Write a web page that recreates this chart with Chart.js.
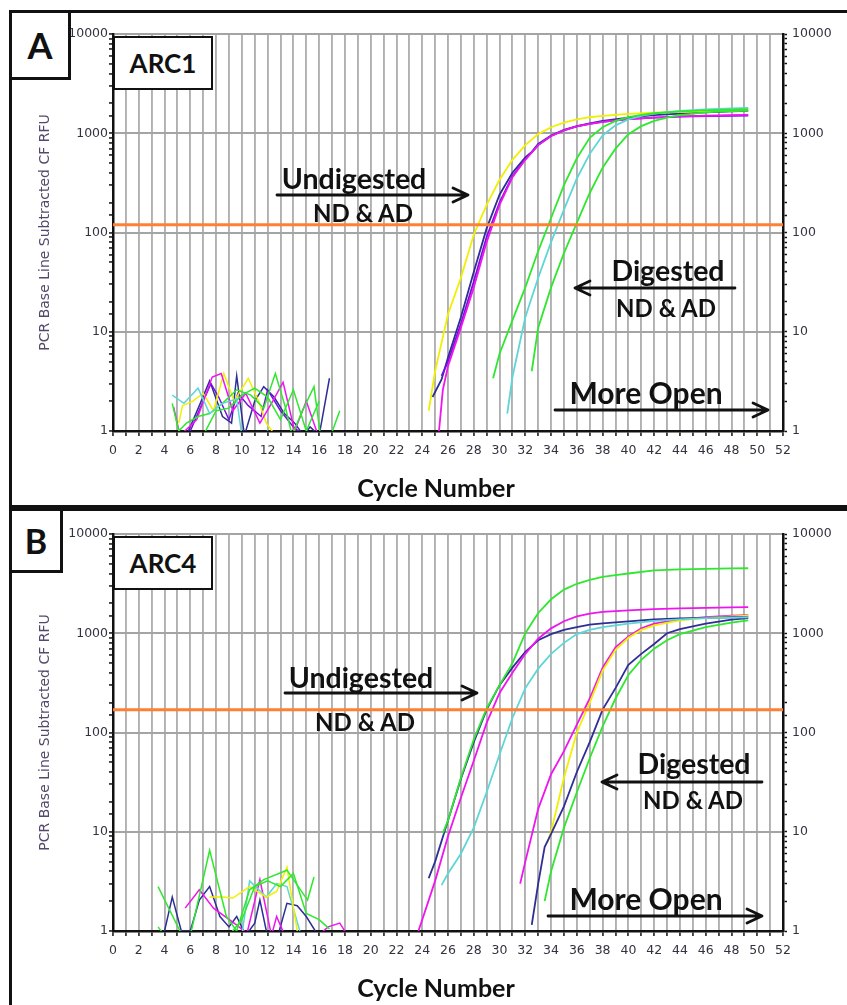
<!DOCTYPE html>
<html>
<head>
<meta charset="utf-8">
<script src="https://cdn.jsdelivr.net/npm/chart.js@4.4.0/dist/chart.umd.min.js"></script>
<style>
  body { margin: 0; background: #fff; width: 847px; height: 1005px; overflow: hidden; position: relative; font-family: Lato, "Open Sans", sans-serif; }
  .panel { position: absolute; left: 0; width: 847px; height: 505px; }
  .panel canvas { position: absolute; left: 0; top: 0; }
  .frame { position: absolute; border: 3px solid #111; box-sizing: border-box; }
  .letter { position: absolute; border: 3px solid #111; background: #fff; box-sizing: border-box; display: flex; align-items: center; justify-content: center; font-weight: 700; color: #111; }
  .tag { position: absolute; border: 2.5px solid #111; background: #fff; box-sizing: border-box; display: flex; align-items: center; justify-content: center; font-weight: 700; font-size: 26px; color: #111; }
  .lbl { position: absolute; font-weight: 700; color: #111; line-height: 1; white-space: nowrap; transform: translate(-50%, -50%); }
</style>
</head>
<body>

<div class="frame" style="left:9px; top:10px; width:860px; height:498px;"></div>
<div class="frame" style="left:9px; top:508px; width:860px; height:520px;"></div>

<div class="panel" style="top:0px;"><canvas id="chartA" width="847" height="505"></canvas></div>
<div class="panel" style="top:500px;"><canvas id="chartB" width="847" height="505"></canvas></div>

<div class="letter" style="left:9px; top:10px; width:62px; height:70px; font-size:36px;">A</div>
<div class="letter" style="left:9px; top:508px; width:54px; height:65px; font-size:34px;">B</div>

<div class="tag" style="left:113px; top:36px; width:100px; height:54px;">ARC1</div>
<div class="tag" style="left:113px; top:536px; width:100px; height:54px;">ARC4</div>

<!-- panel A labels -->
<div class="lbl" style="left:354px; top:178px; font-size:28.5px;">Undigested</div>
<div class="lbl" style="left:363px; top:213px; font-size:24px;">ND &amp; AD</div>
<div class="lbl" style="left:668px; top:270px; font-size:28.5px;">Digested</div>
<div class="lbl" style="left:666px; top:308px; font-size:24px;">ND &amp; AD</div>
<div class="lbl" style="left:646px; top:392px; font-size:30px;">More Open</div>
<div class="lbl" style="left:436px; top:487px; font-size:25px;">Cycle Number</div>

<!-- panel B labels -->
<div class="lbl" style="left:361px; top:677px; font-size:28.5px;">Undigested</div>
<div class="lbl" style="left:365px; top:722px; font-size:24px;">ND &amp; AD</div>
<div class="lbl" style="left:694px; top:763px; font-size:28.5px;">Digested</div>
<div class="lbl" style="left:693px; top:800px; font-size:24px;">ND &amp; AD</div>
<div class="lbl" style="left:646px; top:898px; font-size:30px;">More Open</div>
<div class="lbl" style="left:436px; top:987px; font-size:25px;">Cycle Number</div>

<script>
// ---- colours of the wells ----
const YELLOW = '#f0f000';
const GREEN = '#2ee82e';
const CYAN = '#5fd6d6';
const MAGENTA = '#f014f0';
const NAVY = '#2e2e96';
const PURPLE = '#7412dc';
const ORANGE = '#ff8033';
const GRID = '#b0b0b0';

// ---- panel A (ARC1) ----
const thresholdA = 120;

const aYellowX = [24.5, 25, 26, 27, 28, 29, 30, 31, 32, 33, 34, 35, 36, 37, 38, 40, 42, 44, 46, 48, 49.3];
const aYellowY = [1.6, 4, 15, 35, 95, 190, 340, 540, 760, 980, 1150, 1280, 1380, 1450, 1500, 1570, 1610, 1640, 1660, 1680, 1700];

const aNavyX = [24.8, 25.5, 26, 27, 28, 29, 30, 31, 32, 32.5, 33, 34, 35, 36, 37, 38, 40, 42, 44, 46, 48, 49.3];
const aNavyY = [2.2, 3.3, 5.5, 14, 40, 110, 240, 400, 570, 650, 780, 950, 1080, 1180, 1260, 1330, 1440, 1520, 1580, 1620, 1660, 1680];

const aPurpleX = [25.5, 26, 27, 28, 29, 30, 31, 32, 32.5, 33, 34, 35, 36, 37, 38, 40, 42, 44, 46, 48, 49.3];
const aPurpleY = [3.6, 5, 12, 32, 90, 200, 370, 550, 640, 760, 940, 1070, 1170, 1240, 1300, 1390, 1440, 1470, 1490, 1500, 1510];

const aMagentaX = [25.3, 25.6, 26, 27, 28, 29, 30, 31, 32, 32.5, 33, 34, 35, 36, 37, 38, 40, 42, 44, 46, 48, 49.3];
const aMagentaY = [1, 2.6, 4.5, 11, 28, 80, 190, 360, 540, 640, 760, 940, 1070, 1170, 1240, 1300, 1390, 1440, 1480, 1500, 1520, 1530];

const aGreen1X = [29.5, 30, 31, 32, 33, 34, 35, 36, 37, 38, 39, 40, 41, 42, 44, 46, 48, 49.3];
const aGreen1Y = [3.4, 6, 13, 28, 65, 140, 300, 560, 900, 1150, 1330, 1450, 1530, 1590, 1660, 1700, 1730, 1750];

const aCyanX = [30.6, 31, 32, 33, 34, 35, 36, 37, 38, 39, 40, 41, 42, 44, 46, 48, 49.3];
const aCyanY = [1.5, 3.5, 14, 35, 80, 170, 350, 620, 950, 1200, 1380, 1500, 1580, 1680, 1740, 1780, 1800];

const aGreen2X = [32.5, 33, 34, 35, 36, 37, 38, 39, 40, 41, 42, 43, 44, 46, 48, 49.3];
const aGreen2Y = [4, 11, 28, 62, 125, 250, 450, 700, 980, 1180, 1330, 1440, 1520, 1620, 1680, 1700];

// baseline noise, panel A
const aNoiseCyanX = [4.6, 5.5, 6.6, 7.5, 8.5, 9.6, 10, 11, 12, 12.5];
const aNoiseCyanY = [2.3, 1.9, 2.7, 1.5, 1.9, 2.1, 0.9, 0.8, 1.0, 0.8];
const aNoiseGreenX = [4.6, 5.1, 5.7, 6.6, 7.5, 8.5, 9.6, 10.7, 11.7, 12.6, 13.4, 13.9, 14.6, 15.6, 16.1, 16.9, 17.6];
const aNoiseGreenY = [1.9, 1.0, 1.2, 1.4, 1.5, 1.9, 2.6, 2.3, 1.7, 3.8, 1.7, 0.9, 1.5, 2.8, 0.9, 0.9, 1.6];
const aNoiseGreen2X = [7, 8, 9, 10, 11, 12, 13, 14, 15, 16];
const aNoiseGreen2Y = [0.9, 1.6, 1.7, 2.3, 2.7, 2.2, 1.3, 2.6, 1.0, 2.0];
const aNoiseMagentaX = [4.7, 5.2, 6.5, 7.7, 8.4, 9.3, 10.3, 11.4, 12.4, 13.2, 14.1, 15.0, 15.8];
const aNoiseMagentaY = [1.75, 0.9, 1.3, 3.5, 3.8, 1.6, 2.4, 1.2, 2.0, 3.1, 1.0, 2.0, 1.0];
const aNoiseYellowX = [5.1, 5.4, 6.2, 7.0, 7.8, 8.6, 9.4, 10.5, 11.3, 11.9, 12.6];
const aNoiseYellowY = [1.2, 1.8, 2.0, 2.4, 1.6, 3.8, 2.0, 3.4, 2.0, 1.2, 0.9];
const aNoiseNavyX = [5.7, 6.7, 7.5, 8.5, 9.2, 9.6, 10.2, 11.0, 11.7, 12.5, 13.3, 14.1, 14.8, 15.3, 16.0, 16.8];
const aNoiseNavyY = [0.9, 1.8, 3.2, 1.4, 1.2, 3.6, 0.9, 2.0, 2.8, 2.2, 1.5, 1.2, 0.9, 1.1, 0.9, 3.4];
const aNoisePurpleX = [6, 7, 7.6, 8.2, 9, 9.7, 10.5, 11.5, 12, 13, 14, 14.8];
const aNoisePurpleY = [1.0, 2.0, 3.0, 2.2, 1.3, 2.4, 1.8, 1.4, 2.6, 1.6, 1.1, 0.9];

// ---- panel B (ARC4) ----
const thresholdB = 170;

const bNavyX = [24.5, 25, 26, 27, 28, 29, 30, 31, 32, 33, 34, 35, 36, 37, 38, 40, 42, 44, 46, 48, 49.3];
const bNavyY = [3.4, 5, 13, 34, 80, 170, 300, 450, 650, 850, 980, 1080, 1150, 1220, 1260, 1320, 1380, 1410, 1430, 1450, 1460];

const bGreenX = [25.6, 26, 27, 28, 29, 30, 31, 32, 33, 34, 35, 36, 37, 38, 39, 40, 42, 44, 46, 48, 49.3];
const bGreenY = [9.7, 13, 35, 85, 175, 300, 500, 1000, 1600, 2200, 2750, 3150, 3450, 3700, 3850, 4000, 4300, 4400, 4450, 4500, 4520];

const bMagentaX = [23.7, 24, 25, 26, 27, 28, 29, 30, 31, 32, 33, 34, 35, 36, 37, 38, 40, 42, 44, 46, 48, 49.3];
const bMagentaY = [1, 1.3, 3.2, 9, 22, 52, 125, 250, 400, 620, 880, 1120, 1320, 1480, 1580, 1640, 1700, 1750, 1780, 1800, 1820, 1830];

const bCyanX = [25.5, 26, 27, 28, 29, 30, 31, 32, 33, 34, 35, 36, 37, 38, 40, 42, 44, 46, 48, 49.3];
const bCyanY = [2.9, 3.8, 6, 11, 25, 60, 140, 280, 440, 620, 800, 980, 1080, 1150, 1250, 1330, 1380, 1420, 1440, 1450];

const bMagenta2X = [31.6, 32, 33, 34, 35, 36, 37, 38, 39, 40, 41, 42, 44, 46, 48, 49.3];
const bMagenta2Y = [3, 5, 17, 38, 65, 120, 220, 450, 720, 930, 1120, 1250, 1380, 1450, 1500, 1520];

const bYellowX = [33.7, 34, 35, 36, 37, 38, 39, 40, 41, 42, 44, 46, 48, 49.3];
const bYellowY = [7.7, 10, 35, 100, 200, 420, 680, 900, 1080, 1200, 1350, 1430, 1480, 1500];

const bNavy2X = [32.5, 33, 33.5, 34, 35, 36, 37, 38, 39, 40, 41, 42, 43, 44, 46, 48, 49.3];
const bNavy2Y = [1.15, 3, 7, 9.5, 18, 40, 80, 170, 280, 480, 620, 780, 1000, 1100, 1250, 1370, 1420];

const bGreen2X = [33.5, 34, 35, 36, 37, 38, 39, 40, 41, 42, 43, 44, 46, 48, 49.3];
const bGreen2Y = [2, 4, 11, 25, 55, 115, 220, 380, 540, 700, 850, 980, 1150, 1280, 1350];

// baseline noise, panel B
const bNoiseGreenX = [3.5, 5.2, 6.0, 7.5, 8.8, 9.6, 10.6, 11.7, 13.5, 15.1, 15.6];
const bNoiseGreenY = [2.8, 1.0, 0.9, 6.5, 1.4, 1.0, 2.6, 3.3, 4.1, 2.05, 3.5];
const bNoiseGreen2X = [3.5, 4.0, 9.0, 10.0, 11.0, 12.0, 13.0, 14.0, 15.0, 16.0, 16.8];
const bNoiseGreen2Y = [1.1, 0.9, 0.9, 1.3, 2.8, 3.2, 2.8, 3.8, 1.5, 1.3, 1.05];
const bNoiseNavyX = [4.0, 4.6, 5.3, 6.0, 6.7, 7.5, 8.3, 9.0, 9.6, 10.3, 11.0, 11.4, 11.9, 12.8, 13.5, 14.3, 15.0, 15.7];
const bNoiseNavyY = [1.0, 2.2, 1.0, 1.0, 2.05, 2.8, 1.4, 1.1, 1.4, 0.9, 1.2, 2.05, 1.0, 0.9, 1.9, 1.8, 1.4, 1.0];
const bNoiseMagentaX = [5.6, 6.7, 7.8, 9.4, 10.4, 11.4, 12.3, 12.7, 13.5, 15.0, 16.7, 17.6, 18.1];
const bNoiseMagentaY = [1.7, 2.6, 1.7, 1.2, 0.95, 3.3, 0.9, 1.4, 0.8, 0.7, 1.1, 1.2, 0.95];
const bNoiseYellowX = [7.5, 8.5, 9.3, 10.6, 11.9, 12.7, 13.5, 14.3, 14.6];
const bNoiseYellowY = [2.2, 2.2, 2.15, 2.8, 2.2, 2.5, 4.4, 1.0, 0.9];
const bNoiseCyanX = [10.0, 10.6, 11.9, 12.7, 13.5, 14.5];
const bNoiseCyanY = [0.9, 3.2, 2.2, 3.0, 2.8, 1.0];

// ---- helpers ----
function series(xs, ys, color, width) {
    return {
        data: xs.map((x, i) => ({ x: x, y: ys[i] })),
        borderColor: color,
        borderWidth: width || 1.8,
        pointRadius: 0,
        fill: false,
        tension: 0
    };
}

function thresholdLine(value) {
    return series([0, 52], [value, value], ORANGE, 3);
}

const isDecade = v => Math.abs(Math.log10(v) - Math.round(Math.log10(v))) < 1e-6;

const tickFont = { family: 'DejaVu Sans', size: 12.5 };

// arrows drawn on top of the plot (pixel positions inside each canvas)
const arrowPlugin = {
    id: 'arrows',
    afterDraw(chart, args, opts) {
        const ctx = chart.ctx;
        ctx.save();
        ctx.strokeStyle = '#111';
        ctx.lineWidth = 2.8;
        ctx.lineCap = 'round';
        ctx.lineJoin = 'round';
        (opts.list || []).forEach(a => {
            const dir = Math.sign(a.x2 - a.x1);
            ctx.beginPath();
            ctx.moveTo(a.x1, a.y);
            ctx.lineTo(a.x2, a.y);
            ctx.moveTo(a.x2 - dir * 15, a.y - 7);
            ctx.lineTo(a.x2, a.y);
            ctx.lineTo(a.x2 - dir * 15, a.y + 7);
            ctx.stroke();
        });
        ctx.restore();
    }
};

function makeChart(id, datasets, arrows) {
    return new Chart(document.getElementById(id), {
        type: 'line',
        data: { datasets: datasets },
        options: {
            responsive: false,
            animation: false,
            layout: { padding: { left: 37, top: 34, right: 0, bottom: 0 } },
            plugins: { legend: { display: false }, tooltip: { enabled: false }, arrows: { list: arrows } },
            scales: {
                x: {
                    type: 'linear', min: 0, max: 52,
                    ticks: { stepSize: 1, autoSkip: false, maxRotation: 0, padding: 7, color: '#333340', font: tickFont,
                             callback: v => (v % 2 === 0 ? String(v) : '') },
                    grid: { color: GRID, lineWidth: 1.9, tickLength: 5, tickColor: '#111', tickWidth: 1.5 },
                    border: { color: '#111', width: 2.5 },
                    afterFit: s => { s.height = 74; }
                },
                y: {
                    type: 'logarithmic', position: 'left', min: 1, max: 10000,
                    ticks: { autoSkip: false, padding: 1, color: '#333340', font: tickFont,
                             callback: v => (isDecade(v) ? String(v) : '') },
                    grid: { color: c => (c.tick && isDecade(c.tick.value) ? '#a4a4a4' : 'rgba(0,0,0,0)'),
                            lineWidth: 1.9, tickLength: 4, tickColor: '#111', tickWidth: 1.5 },
                    border: { color: '#111', width: 2.5 },
                    title: { display: true, text: 'PCR Base Line Subtracted CF RFU', color: '#56486a',
                             font: { family: 'DejaVu Sans', size: 14 }, padding: { top: 0, bottom: 0 } },
                    afterFit: s => { s.width = 76; }
                },
                y2: {
                    type: 'logarithmic', position: 'right', min: 1, max: 10000,
                    ticks: { autoSkip: false, padding: 5, color: '#333340', font: tickFont,
                             callback: v => (isDecade(v) ? String(v) : '') },
                    grid: { drawOnChartArea: false, tickLength: 4, tickColor: '#111', tickWidth: 1.5 },
                    border: { color: '#111', width: 2.5 },
                    afterFit: s => { s.width = 64; }
                }
            }
        },
        plugins: [arrowPlugin]
    });
}

makeChart('chartA', [
    series(aNoiseCyanX, aNoiseCyanY, CYAN, 1.5),
    series(aNoiseGreenX, aNoiseGreenY, GREEN, 1.5),
    series(aNoiseGreen2X, aNoiseGreen2Y, GREEN, 1.5),
    series(aNoiseMagentaX, aNoiseMagentaY, MAGENTA, 1.5),
    series(aNoiseYellowX, aNoiseYellowY, YELLOW, 1.5),
    series(aNoisePurpleX, aNoisePurpleY, PURPLE, 1.5),
    series(aNoiseNavyX, aNoiseNavyY, NAVY, 1.5),
    thresholdLine(thresholdA),
    series(aGreen1X, aGreen1Y, GREEN),
    series(aCyanX, aCyanY, CYAN),
    series(aGreen2X, aGreen2Y, GREEN),
    series(aYellowX, aYellowY, YELLOW),
    series(aMagentaX, aMagentaY, MAGENTA),
    series(aPurpleX, aPurpleY, PURPLE),
    series(aNavyX, aNavyY, NAVY)
], [
    { x1: 277, x2: 468, y: 195 },
    { x1: 735, x2: 575, y: 288 },
    { x1: 555, x2: 768, y: 410 }
]);

makeChart('chartB', [
    series(bNoiseGreenX, bNoiseGreenY, GREEN, 1.5),
    series(bNoiseGreen2X, bNoiseGreen2Y, GREEN, 1.5),
    series(bNoiseYellowX, bNoiseYellowY, YELLOW, 1.5),
    series(bNoiseCyanX, bNoiseCyanY, CYAN, 1.5),
    series(bNoiseMagentaX, bNoiseMagentaY, MAGENTA, 1.5),
    series(bNoiseNavyX, bNoiseNavyY, NAVY, 1.5),
    thresholdLine(thresholdB),
    series(bCyanX, bCyanY, CYAN),
    series(bGreenX, bGreenY, GREEN),
    series(bMagentaX, bMagentaY, MAGENTA),
    series(bNavyX, bNavyY, NAVY),
    series(bGreen2X, bGreen2Y, GREEN),
    series(bNavy2X, bNavy2Y, NAVY),
    series(bYellowX, bYellowY, YELLOW),
    series(bMagenta2X, bMagenta2Y, MAGENTA)
], [
    { x1: 285, x2: 477, y: 193 },
    { x1: 762, x2: 602, y: 282 },
    { x1: 548, x2: 762, y: 416 }
]);
</script>
</body>
</html>
